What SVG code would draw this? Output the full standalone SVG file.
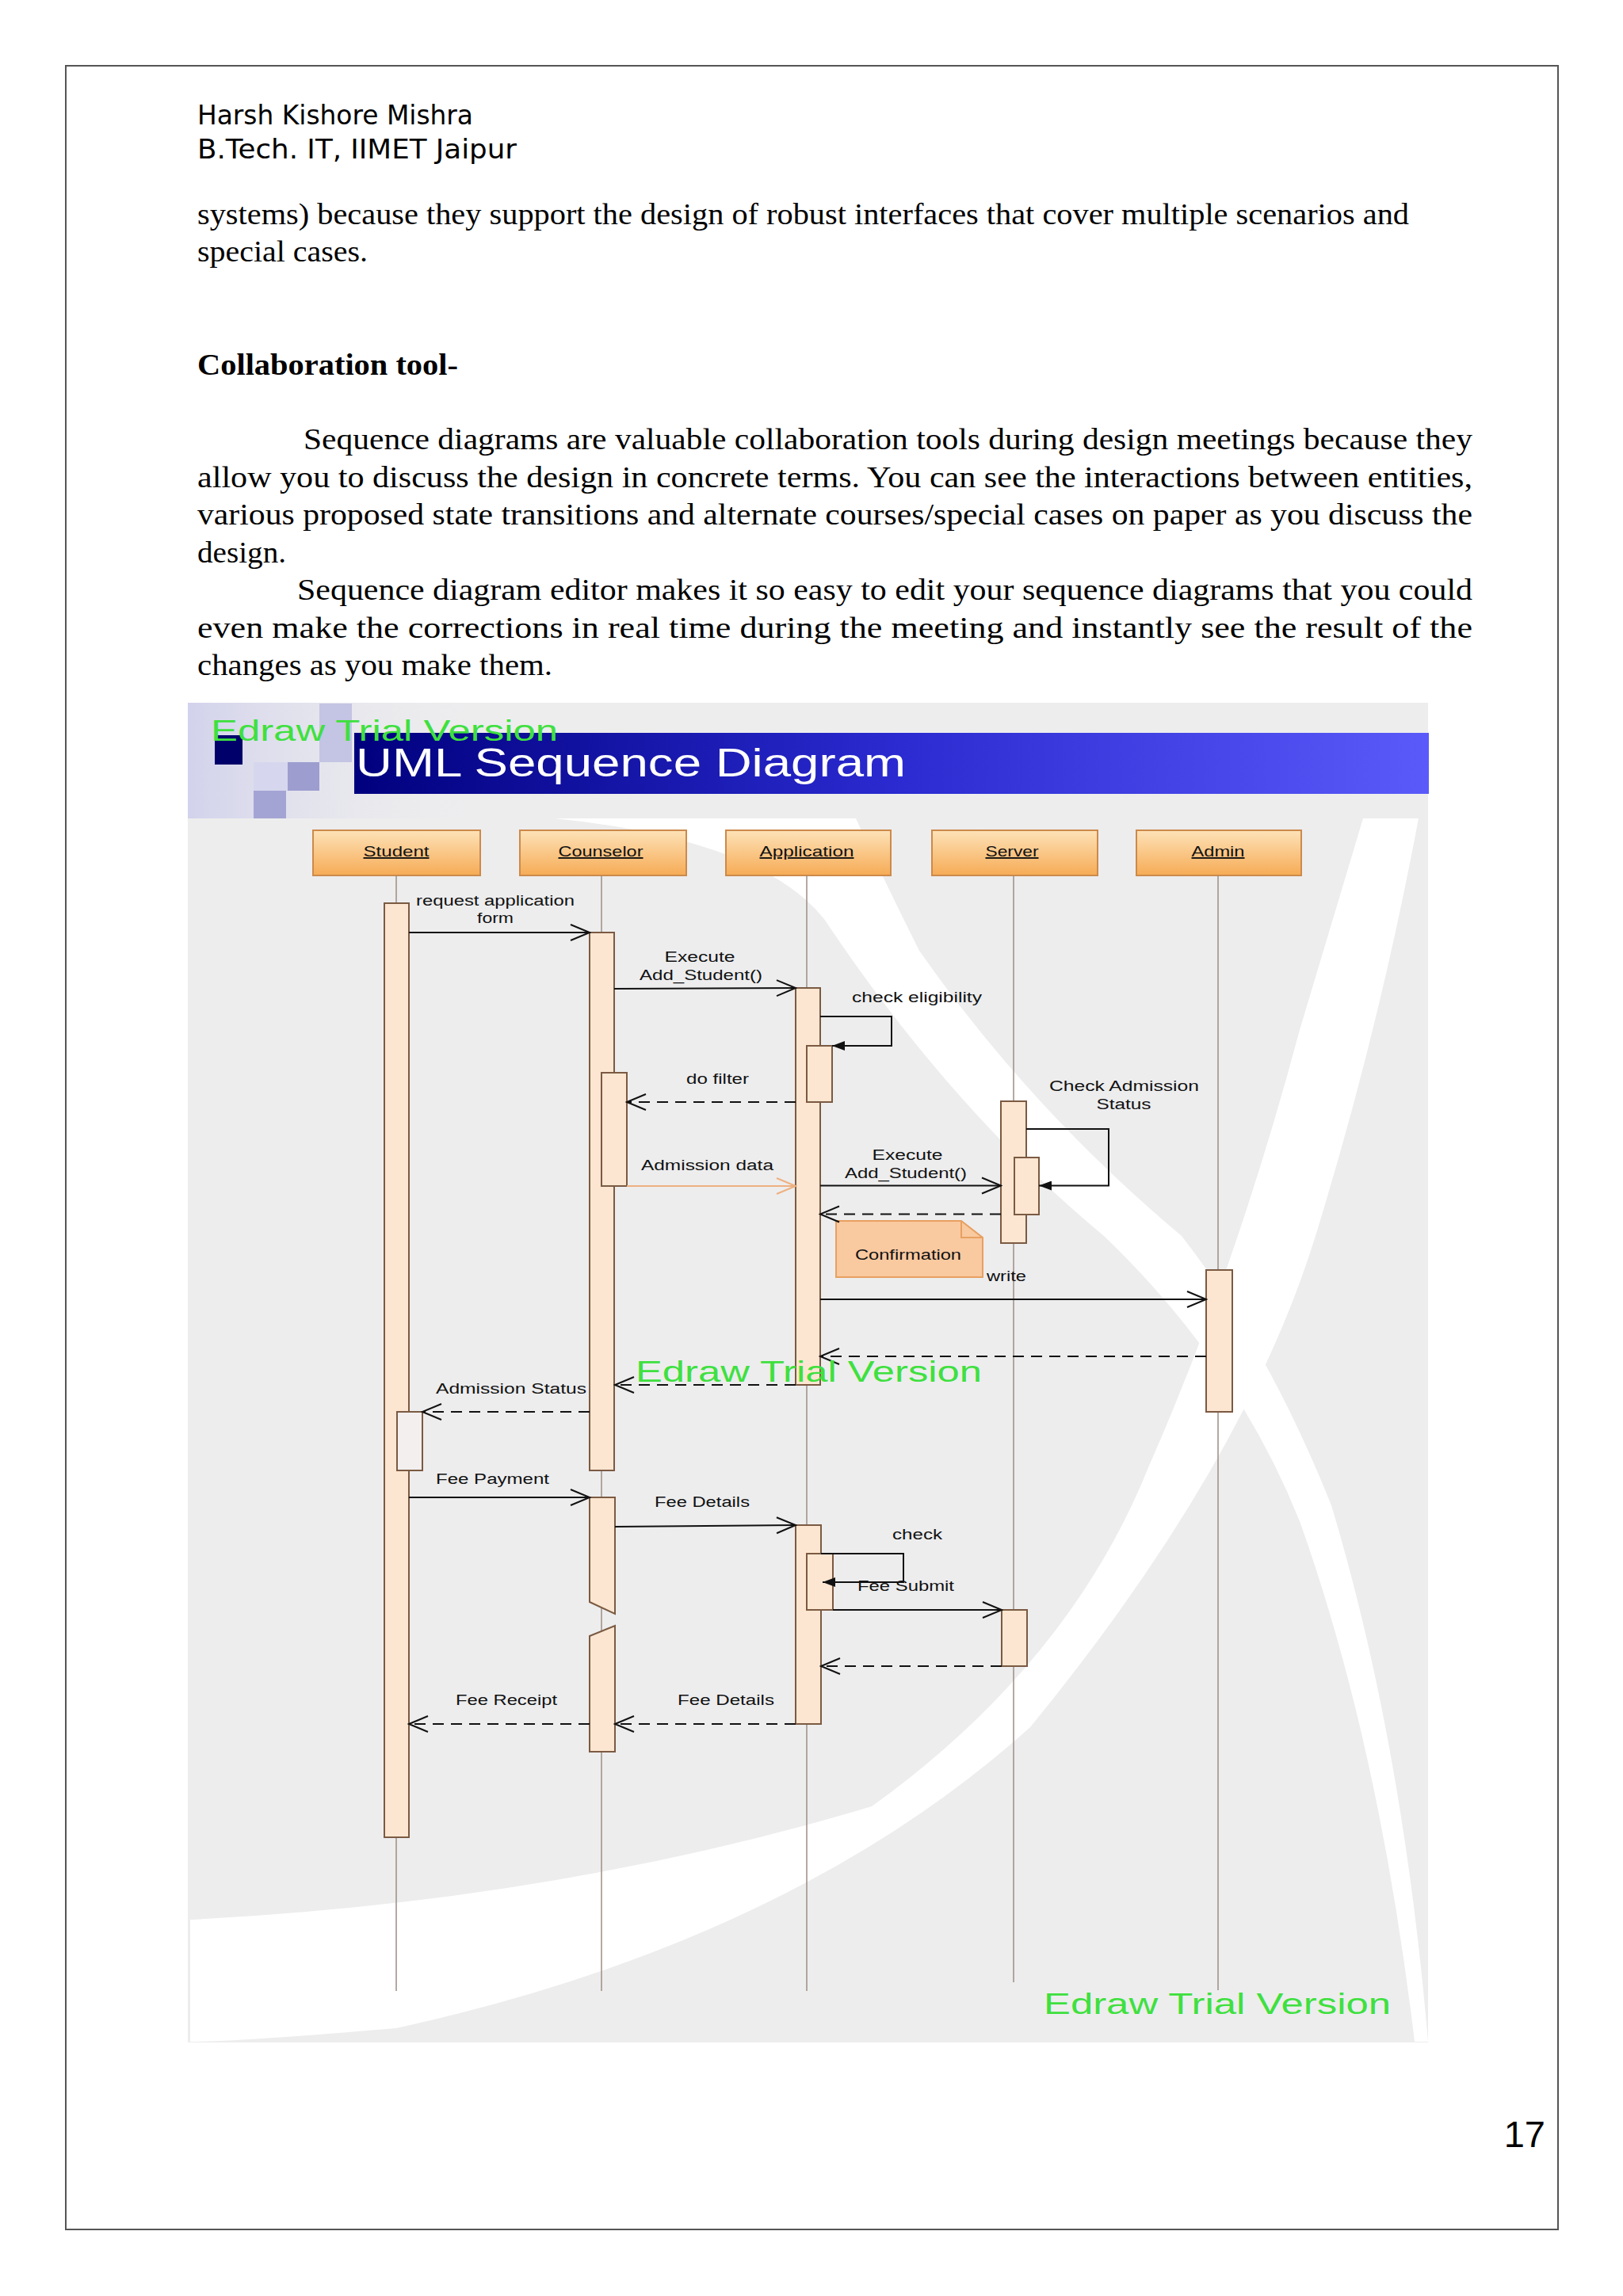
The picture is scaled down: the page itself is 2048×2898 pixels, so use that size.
<svg xmlns="http://www.w3.org/2000/svg" width="2048" height="2898" viewBox="0 0 2048 2898">
<defs>
<linearGradient id="gHead" x1="0" y1="0" x2="0" y2="1"><stop offset="0" stop-color="#fde2b8"/><stop offset="1" stop-color="#f6ab55"/></linearGradient>
<linearGradient id="gBan" x1="0" y1="0" x2="1" y2="0"><stop offset="0" stop-color="#00007e"/><stop offset="0.5" stop-color="#2a2ad0"/><stop offset="1" stop-color="#5a5afa"/></linearGradient>
<linearGradient id="gDeco" x1="0" y1="0" x2="1" y2="0"><stop offset="0" stop-color="#d2d2ec"/><stop offset="1" stop-color="#ededee" stop-opacity="0"/></linearGradient>
<marker id="open" markerUnits="userSpaceOnUse" markerWidth="28" markerHeight="24" viewBox="0 0 28 24" refX="26" refY="12" orient="auto"><path d="M2,2 L26,12 L2,22" fill="none" stroke="#111" stroke-width="2"/></marker>
<marker id="openO" markerUnits="userSpaceOnUse" markerWidth="28" markerHeight="24" viewBox="0 0 28 24" refX="26" refY="12" orient="auto"><path d="M2,2 L26,12 L2,22" fill="none" stroke="#eeb080" stroke-width="2"/></marker>
<marker id="solid" markerUnits="userSpaceOnUse" markerWidth="16" markerHeight="12" viewBox="0 0 16 12" refX="16" refY="6" orient="auto"><path d="M0,0 L16,6 L0,12 z" fill="#111"/></marker>
</defs>
<style>
.hdr{font-family:"DejaVu Sans",Verdana,sans-serif;font-size:34px;fill:#000}
.body{font-family:"Liberation Serif","Times New Roman",serif;font-size:37px;fill:#000}
.t{font-family:"Liberation Sans",Arial,sans-serif;font-size:18px;fill:#111}
.c{text-anchor:middle}
.hl{font-size:19px;text-decoration:underline}
.wm{font-family:"Liberation Sans",Arial,sans-serif;font-size:37px;fill:#3fe03f}
.life{stroke:#9c8c84;stroke-width:1.5}
.act{fill:#fde6d1;stroke:#7b5a42;stroke-width:2}
.head{fill:url(#gHead);stroke:#cc8a4a;stroke-width:2}
.m{stroke:#111;stroke-width:2;fill:none}
.d{stroke-dasharray:14 9}
</style>
<rect width="2048" height="2898" fill="#fff"/>
<rect x="83" y="83" width="1883" height="2731" fill="none" stroke="#555" stroke-width="2"/>

<g id="page-text">
<text class="hdr" x="249" y="157" textLength="348" lengthAdjust="spacingAndGlyphs">Harsh Kishore Mishra</text>
<text class="hdr" x="249" y="200" textLength="403" lengthAdjust="spacingAndGlyphs">B.Tech. IT, IIMET Jaipur</text>
<text class="body" x="249" y="283" textLength="1529" lengthAdjust="spacingAndGlyphs">systems) because they support the design of robust interfaces that cover multiple scenarios and</text>
<text class="body" x="249" y="330" textLength="215" lengthAdjust="spacingAndGlyphs">special cases.</text>
<text class="body" x="249" y="473" font-weight="bold" textLength="329" lengthAdjust="spacingAndGlyphs">Collaboration tool-</text>
<text class="body" x="383" y="567" textLength="1475" lengthAdjust="spacingAndGlyphs">Sequence diagrams are valuable collaboration tools during design meetings because they</text>
<text class="body" x="249" y="614.5" textLength="1609" lengthAdjust="spacingAndGlyphs">allow you to discuss the design in concrete terms. You can see the interactions between entities,</text>
<text class="body" x="249" y="662" textLength="1609" lengthAdjust="spacingAndGlyphs">various proposed state transitions and alternate courses/special cases on paper as you discuss the</text>
<text class="body" x="249" y="709.5" textLength="112" lengthAdjust="spacingAndGlyphs">design.</text>
<text class="body" x="375" y="757" textLength="1483" lengthAdjust="spacingAndGlyphs">Sequence diagram editor makes it so easy to edit your sequence diagrams that you could</text>
<text class="body" x="249" y="804.5" textLength="1609" lengthAdjust="spacingAndGlyphs">even make the corrections in real time during the meeting and instantly see the result of the</text>
<text class="body" x="249" y="852" textLength="448" lengthAdjust="spacingAndGlyphs">changes as you make them.</text>
<text x="1950" y="2710" text-anchor="end" font-family="Liberation Sans, Arial, sans-serif" font-size="47" fill="#000">17</text>
</g>

<g id="background">
<rect x="237" y="887" width="1565" height="1691" fill="#ededee"/>
<path d="M700,1033 Q960,1060 1040,1160 Q1200,1400 1393,1560 Q1560,1720 1640,1920 Q1740,2200 1785,2577 L1802,2577 Q1770,2200 1680,1900 Q1600,1700 1491,1560 Q1300,1400 1160,1200 Q1110,1100 1080,1033 Z" fill="#fff"/>
<path d="M240,2423 Q700,2400 1100,2280 Q1350,2100 1450,1850 Q1560,1600 1640,1300 Q1700,1100 1720,1033 L1790,1033 Q1740,1300 1660,1560 Q1570,1850 1300,2180 Q1000,2450 500,2560 Q300,2577 240,2577 Z" fill="#fff"/>
<rect x="237" y="887" width="380" height="146" fill="url(#gDeco)"/>
<rect x="403" y="888" width="41" height="74" fill="#c4c4e4"/>
<rect x="320" y="962" width="43" height="36" fill="#d6d6ee"/>
<rect x="363" y="962" width="40" height="36" fill="#9d9dd0"/>
<rect x="320" y="998" width="41" height="35" fill="#a4a4d4"/>
<rect x="271" y="928" width="35" height="37" fill="#00006a"/>
<rect x="447" y="925" width="1356" height="77" fill="url(#gBan)"/>
<text x="449" y="980" font-family="Liberation Sans, Arial, sans-serif" font-size="50" fill="#fff" textLength="694" lengthAdjust="spacingAndGlyphs">UML Sequence Diagram</text>
</g>

<g id="n-student">
<rect class="head" x="395" y="1048" width="211" height="57"/>
<text class="t c hl" x="500" y="1081" textLength="83" lengthAdjust="spacingAndGlyphs">Student</text>
<line class="life" x1="500" y1="1105" x2="500" y2="2513"/>
<rect class="act" x="485" y="1140" width="31" height="1179"/>
<rect x="501" y="1782" width="32" height="74" fill="#f2efee" stroke="#7b5a42" stroke-width="2"/>
</g>
<g id="n-counselor">
<rect class="head" x="656" y="1048" width="210" height="57"/>
<text class="t c hl" x="758" y="1081" textLength="107" lengthAdjust="spacingAndGlyphs">Counselor</text>
<line class="life" x1="759" y1="1105" x2="759" y2="2513"/>
<rect class="act" x="744" y="1177" width="31" height="679"/>
<rect class="act" x="759" y="1354" width="32" height="143"/>
<polygon class="act" points="744,1890 776,1890 776,2037 744,2022"/>
<polygon class="act" points="744,2065 776,2052 776,2211 744,2211"/>
</g>
<g id="n-application">
<rect class="head" x="916" y="1048" width="208" height="57"/>
<text class="t c hl" x="1018" y="1081" textLength="119" lengthAdjust="spacingAndGlyphs">Application</text>
<line class="life" x1="1018" y1="1105" x2="1018" y2="2513"/>
<rect class="act" x="1004" y="1247" width="31" height="501"/>
<rect class="act" x="1018" y="1320" width="32" height="71"/>
<rect class="act" x="1004" y="1925" width="32" height="251"/>
<rect class="act" x="1018" y="1961" width="33" height="71"/>
</g>
<g id="n-server">
<rect class="head" x="1176" y="1048" width="209" height="57"/>
<text class="t c hl" x="1277" y="1081" textLength="67" lengthAdjust="spacingAndGlyphs">Server</text>
<line class="life" x1="1279" y1="1105" x2="1279" y2="2502"/>
<rect class="act" x="1263" y="1390" width="32" height="179"/>
<rect class="act" x="1280" y="1461" width="31" height="72"/>
<rect class="act" x="1264" y="2032" width="32" height="71"/>
</g>
<g id="n-admin">
<rect class="head" x="1434" y="1048" width="208" height="57"/>
<text class="t c hl" x="1537" y="1081" textLength="67" lengthAdjust="spacingAndGlyphs">Admin</text>
<line class="life" x1="1537" y1="1105" x2="1537" y2="2512"/>
<rect class="act" x="1522" y="1603" width="33" height="179"/>
</g>
<g id="n-confirmation">
<path d="M1055,1541 H1213 L1240,1562 V1612 H1055 Z" fill="#f9c9a0" stroke="#e8a060" stroke-width="2"/>
<path d="M1213,1541 V1562 H1240" fill="none" stroke="#e8a060" stroke-width="2"/>
<text class="t c" x="1146" y="1590" textLength="134" lengthAdjust="spacingAndGlyphs">Confirmation</text>
</g>

<g id="connectors">
<line class="m" x1="516" y1="1177" x2="744" y2="1177" marker-end="url(#open)"/>
<line class="m" x1="775" y1="1248" x2="1004" y2="1247" marker-end="url(#open)"/>
<path class="m" d="M1035,1283 H1125 V1320 H1050" marker-end="url(#solid)"/>
<line class="m d" x1="1004" y1="1391" x2="791" y2="1391" marker-end="url(#open)"/>
<line x1="791" y1="1497" x2="1004" y2="1497" stroke="#eeb080" stroke-width="2" marker-end="url(#openO)"/>
<path class="m" d="M1295,1425 H1399 V1496.5 H1311" marker-end="url(#solid)"/>
<line class="m" x1="1035" y1="1496.5" x2="1263" y2="1496.5" marker-end="url(#open)"/>
<line class="m d" x1="1263" y1="1532.5" x2="1035" y2="1532.5" marker-end="url(#open)"/>
<line class="m" x1="1035" y1="1640" x2="1522" y2="1640" marker-end="url(#open)"/>
<line class="m d" x1="1522" y1="1712" x2="1035" y2="1712" marker-end="url(#open)"/>
<line class="m d" x1="1004" y1="1748" x2="776" y2="1748" marker-end="url(#open)"/>
<line class="m d" x1="744" y1="1782" x2="533" y2="1782" marker-end="url(#open)"/>
<line class="m" x1="516" y1="1890" x2="744" y2="1890" marker-end="url(#open)"/>
<line class="m" x1="776" y1="1927" x2="1004" y2="1925" marker-end="url(#open)"/>
<path class="m" d="M1036,1961 H1140 V1997 H1038" marker-end="url(#solid)"/>
<line class="m" x1="1051" y1="2032" x2="1264" y2="2032" marker-end="url(#open)"/>
<line class="m d" x1="1264" y1="2103" x2="1036" y2="2103" marker-end="url(#open)"/>
<line class="m d" x1="1004" y1="2176" x2="776" y2="2176" marker-end="url(#open)"/>
<line class="m d" x1="744" y1="2176" x2="516" y2="2176" marker-end="url(#open)"/>
</g>

<g id="labels">
<text class="t" x="525" y="1143" textLength="200" lengthAdjust="spacingAndGlyphs">request application</text>
<text class="t c" x="625" y="1165" textLength="46" lengthAdjust="spacingAndGlyphs">form</text>
<text class="t c" x="883" y="1214" textLength="89" lengthAdjust="spacingAndGlyphs">Execute</text>
<text class="t" x="807" y="1237" textLength="155" lengthAdjust="spacingAndGlyphs">Add_Student()</text>
<text class="t" x="1075" y="1265" textLength="164" lengthAdjust="spacingAndGlyphs">check eligibility</text>
<text class="t" x="866" y="1368" textLength="79" lengthAdjust="spacingAndGlyphs">do filter</text>
<text class="t" x="809" y="1477" textLength="167" lengthAdjust="spacingAndGlyphs">Admission data</text>
<text class="t" x="1324" y="1377" textLength="189" lengthAdjust="spacingAndGlyphs">Check Admission</text>
<text class="t c" x="1418" y="1400" textLength="69" lengthAdjust="spacingAndGlyphs">Status</text>
<text class="t c" x="1145" y="1464" textLength="89" lengthAdjust="spacingAndGlyphs">Execute</text>
<text class="t" x="1066" y="1487" textLength="154" lengthAdjust="spacingAndGlyphs">Add_Student()</text>
<text class="t" x="1245" y="1617" textLength="50" lengthAdjust="spacingAndGlyphs">write</text>
<text class="t" x="550" y="1759" textLength="190" lengthAdjust="spacingAndGlyphs">Admission Status</text>
<text class="t" x="550" y="1873" textLength="143" lengthAdjust="spacingAndGlyphs">Fee Payment</text>
<text class="t" x="826" y="1902" textLength="120" lengthAdjust="spacingAndGlyphs">Fee Details</text>
<text class="t" x="1126" y="1943" textLength="63" lengthAdjust="spacingAndGlyphs">check</text>
<text class="t" x="1082" y="2008" textLength="122" lengthAdjust="spacingAndGlyphs">Fee Submit</text>
<text class="t" x="855" y="2152" textLength="122" lengthAdjust="spacingAndGlyphs">Fee Details</text>
<text class="t" x="575" y="2152" textLength="128" lengthAdjust="spacingAndGlyphs">Fee Receipt</text>
</g>

<g id="watermarks">
<text class="wm" x="266" y="935" textLength="438" lengthAdjust="spacingAndGlyphs">Edraw Trial Version</text>
<text class="wm" x="802" y="1744" textLength="437" lengthAdjust="spacingAndGlyphs">Edraw Trial Version</text>
<text class="wm" x="1317" y="2542" textLength="438" lengthAdjust="spacingAndGlyphs">Edraw Trial Version</text>
</g>
</svg>
